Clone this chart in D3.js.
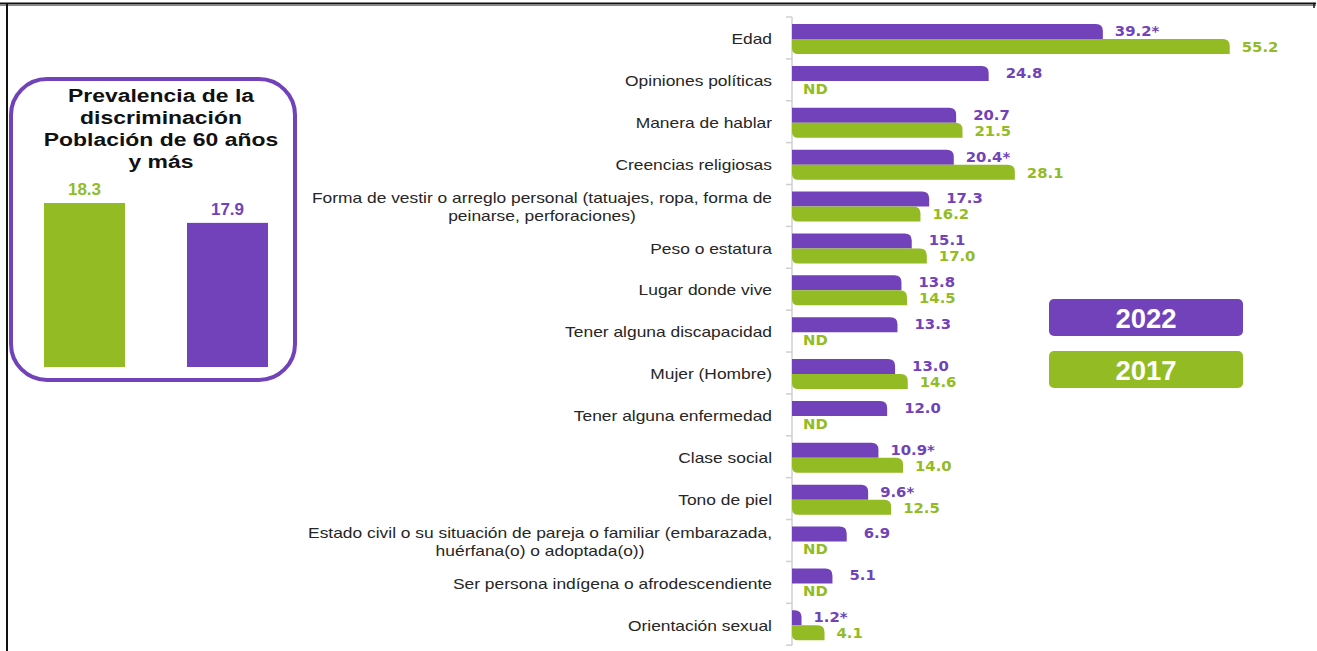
<!DOCTYPE html>
<html>
<head>
<meta charset="utf-8">
<script src="https://cdn.jsdelivr.net/npm/d3@7"></script>
<style>
  body { margin: 0; background: #fff; }
  svg { display: block; }
</style>
</head>
<body>
<div class="chart"></div>
<script>
// categories and values
var categories = [
  "Edad",
  "Opiniones políticas",
  "Manera de hablar",
  "Creencias religiosas",
  "Forma de vestir o arreglo personal (tatuajes, ropa, forma de|peinarse, perforaciones)",
  "Peso o estatura",
  "Lugar donde vive",
  "Tener alguna discapacidad",
  "Mujer (Hombre)",
  "Tener alguna enfermedad",
  "Clase social",
  "Tono de piel",
  "Estado civil o su situación de pareja o familiar (embarazada,|huérfana(o) o adoptada(o))",
  "Ser persona indígena o afrodescendiente",
  "Orientación sexual"
];
var values2022 = [39.2, 24.8, 20.7, 20.4, 17.3, 15.1, 13.8, 13.3, 13.0, 12.0, 10.9, 9.6, 6.9, 5.1, 1.2];
var star2022 = [true, false, false, true, false, false, false, false, false, false, true, true, false, false, true];
var values2017 = [55.2, null, 21.5, 28.1, 16.2, 17.0, 14.5, null, 14.6, null, 14.0, 12.5, null, null, 4.1];

var prevYears = ["2017", "2022"];
var prevValues = [18.3, 17.9];
var prevTitle = ["Prevalencia de la", "discriminación", "Población de 60 años", "y más"];

var legendYears = ["2022", "2017"];

var purple = "#7142b9";
var green = "#93bb23";

var svgWidth = 1317;
var svgHeight = 651;

var svg = d3.select(".chart")
  .append("svg")
  .attr("width", svgWidth)
  .attr("height", svgHeight);

// frame
svg.append("line").attr("x1", 0).attr("x2", 1316).attr("y1", 3.5).attr("y2", 3.5)
  .attr("stroke", "#111").attr("stroke-width", 2);
svg.append("line").attr("x1", 0).attr("x2", 1316).attr("y1", 5.5).attr("y2", 5.5)
  .attr("stroke", "#888").attr("stroke-width", 1);
svg.append("line").attr("x1", 7).attr("x2", 7).attr("y1", 3).attr("y2", 651)
  .attr("stroke", "#111").attr("stroke-width", 2);
svg.append("line").attr("x1", 1314).attr("x2", 1314).attr("y1", 3).attr("y2", 8)
  .attr("stroke", "#111").attr("stroke-width", 1.5);

// main chart
var xScale = d3.scaleLinear().domain([0, 60]).range([792, 792 + 60 * 7.93]);
var yBand = d3.scaleBand().domain(categories).range([17, 645.2]);
var step = yBand.step();
var barH = 15;

// axis line and ticks at band boundaries
var axis = svg.append("g");
axis.append("line")
  .attr("x1", 792).attr("x2", 792)
  .attr("y1", yBand.range()[0]).attr("y2", yBand.range()[1])
  .attr("stroke", "#d0d0d0").attr("stroke-width", 1.5);
axis.selectAll(".tick")
  .data(categories.concat(["__end"]))
  .enter()
  .append("line")
  .attr("x1", 786).attr("x2", 792)
  .attr("y1", (d, i) => yBand.range()[0] + i * step)
  .attr("y2", (d, i) => yBand.range()[0] + i * step)
  .attr("stroke", "#d0d0d0").attr("stroke-width", 1.5);

function barPath(x0, x1, y0, h, rTR, rBL) {
  var w = x1 - x0;
  rTR = Math.min(rTR, w, h);
  rBL = Math.min(rBL, w, h);
  return "M" + x0 + "," + y0 +
    "H" + (x1 - rTR) +
    "Q" + x1 + "," + y0 + " " + x1 + "," + (y0 + rTR) +
    "V" + (y0 + h) +
    "H" + (x0 + rBL) +
    "Q" + x0 + "," + (y0 + h) + " " + x0 + "," + (y0 + h - rBL) +
    "Z";
}

var rows = categories.map((c, i) => ({
  cat: c, v22: values2022[i], s22: star2022[i], v17: values2017[i]
}));

// 2022 bars
svg.selectAll(".bar22")
  .data(rows)
  .enter()
  .append("path")
  .attr("class", "bar22")
  .attr("fill", purple)
  .attr("d", d => barPath(xScale(0), xScale(d.v22), yBand(d.cat) + 7, barH, 7, 0));

// 2017 bars
svg.selectAll(".bar17")
  .data(rows.filter(d => d.v17 != null))
  .enter()
  .append("path")
  .attr("class", "bar17")
  .attr("fill", green)
  .attr("d", d => barPath(xScale(0), xScale(d.v17), yBand(d.cat) + 7 + barH, barH, 7, 6));

var valFont = "'DejaVu Sans', Verdana, sans-serif";

// value labels, slightly stretched like the source
svg.selectAll(".lab22")
  .data(rows)
  .enter()
  .append("text")
  .attr("class", "lab22")
  .attr("transform", d => `translate(${xScale(d.v22) + (d.s22 ? 12 : 17)}, ${yBand(d.cat) + 7 + barH / 2 - 0.5}) scale(1.1,1)`)
  .attr("dy", "0.36em")
  .style("font-family", valFont)
  .style("font-weight", "bold")
  .style("font-size", "13.5px")
  .style("fill", purple)
  .text(d => d.v22.toFixed(1) + (d.s22 ? "*" : ""));

svg.selectAll(".lab17")
  .data(rows)
  .enter()
  .append("text")
  .attr("class", "lab17")
  .attr("transform", d => `translate(${d.v17 == null ? xScale(0) + 11 : xScale(d.v17) + 12}, ${yBand(d.cat) + 7 + barH * 1.5 + 0.5}) scale(1.1,1)`)
  .attr("dy", "0.36em")
  .style("font-family", valFont)
  .style("font-weight", "bold")
  .style("font-size", "13.5px")
  .style("fill", green)
  .text(d => d.v17 == null ? "ND" : d.v17.toFixed(1));

// category labels, multi-line ones centred within a right-aligned block
// (the source renders them a little stretched horizontally)
var catG = svg.selectAll(".cat")
  .data(categories)
  .enter()
  .append("g")
  .attr("class", "cat")
  .attr("transform", "translate(772,0) scale(1.16,1)");

catG.each(function(d) {
  var lines = d.split("|");
  var g = d3.select(this);
  var cy = yBand(d) + step / 2 + 1;
  var lh = 18;
  var t = g.append("text")
    .style("font-family", "'Liberation Sans', Arial, sans-serif")
    .style("font-size", "15px")
    .style("fill", "#262626");
  lines.forEach(function(line, i) {
    t.append("tspan")
      .attr("y", cy + (i - (lines.length - 1) / 2) * lh)
      .attr("dy", "0.35em")
      .text(line);
  });
  if (lines.length === 1) {
    t.attr("text-anchor", "end").selectAll("tspan").attr("x", 0);
  } else {
    var widths = [];
    t.selectAll("tspan").each(function() { widths.push(this.getComputedTextLength()); });
    var maxW = d3.max(widths);
    t.attr("text-anchor", "middle").selectAll("tspan").attr("x", -maxW / 2);
  }
});

// legend
var legend = svg.selectAll(".legend")
  .data(legendYears)
  .enter()
  .append("g")
  .attr("class", "legend")
  .attr("transform", (d, i) => `translate(1049, ${299 + i * 52})`);

legend.append("rect")
  .attr("width", 194)
  .attr("height", 37)
  .attr("rx", 5)
  .attr("fill", d => d === "2022" ? purple : green);

legend.append("text")
  .attr("x", 97)
  .attr("y", 19)
  .attr("dy", "0.36em")
  .attr("text-anchor", "middle")
  .style("font-family", "'Liberation Sans', Arial, sans-serif")
  .style("font-weight", "bold")
  .style("font-size", "27.5px")
  .style("fill", "#fff")
  .text(d => d);

// inset: prevalence
var inset = svg.append("g");
inset.append("rect")
  .attr("x", 11).attr("y", 79)
  .attr("width", 284).attr("height", 301)
  .attr("rx", 36)
  .attr("fill", "#fff")
  .attr("stroke", purple)
  .attr("stroke-width", 4);

inset.append("g")
  .attr("transform", "translate(161,0) scale(1.24,1)")
  .append("text")
  .attr("text-anchor", "middle")
  .style("font-family", "'Liberation Sans', Arial, sans-serif")
  .style("font-weight", "bold")
  .style("font-size", "18.5px")
  .style("fill", "#111")
  .selectAll("tspan")
  .data(prevTitle)
  .enter()
  .append("tspan")
  .attr("x", 0)
  .attr("y", (d, i) => 96 + i * 22)
  .attr("dy", "0.35em")
  .text(d => d);

var px = d3.scaleBand().domain(prevYears).range([44, 268]).paddingInner(0.4336).paddingOuter(0);
var py = d3.scaleLinear().domain([15, 19]).range([367, 168.2]);

inset.selectAll(".pbar")
  .data(prevYears)
  .enter()
  .append("rect")
  .attr("x", d => px(d))
  .attr("y", (d, i) => py(prevValues[i]))
  .attr("width", px.bandwidth())
  .attr("height", (d, i) => py(15) - py(prevValues[i]))
  .attr("fill", d => d === "2022" ? purple : green);

inset.selectAll(".plab")
  .data(prevYears)
  .enter()
  .append("text")
  .attr("x", d => px(d) + px.bandwidth() / 2)
  .attr("y", (d, i) => py(prevValues[i]) - 14)
  .attr("dy", "0.36em")
  .attr("text-anchor", "middle")
  .style("font-family", "'Liberation Sans', Arial, sans-serif")
  .style("font-weight", "bold")
  .style("font-size", "17px")
  .style("fill", d => d === "2022" ? purple : green)
  .text((d, i) => prevValues[i].toFixed(1));
</script>
</body>
</html>
